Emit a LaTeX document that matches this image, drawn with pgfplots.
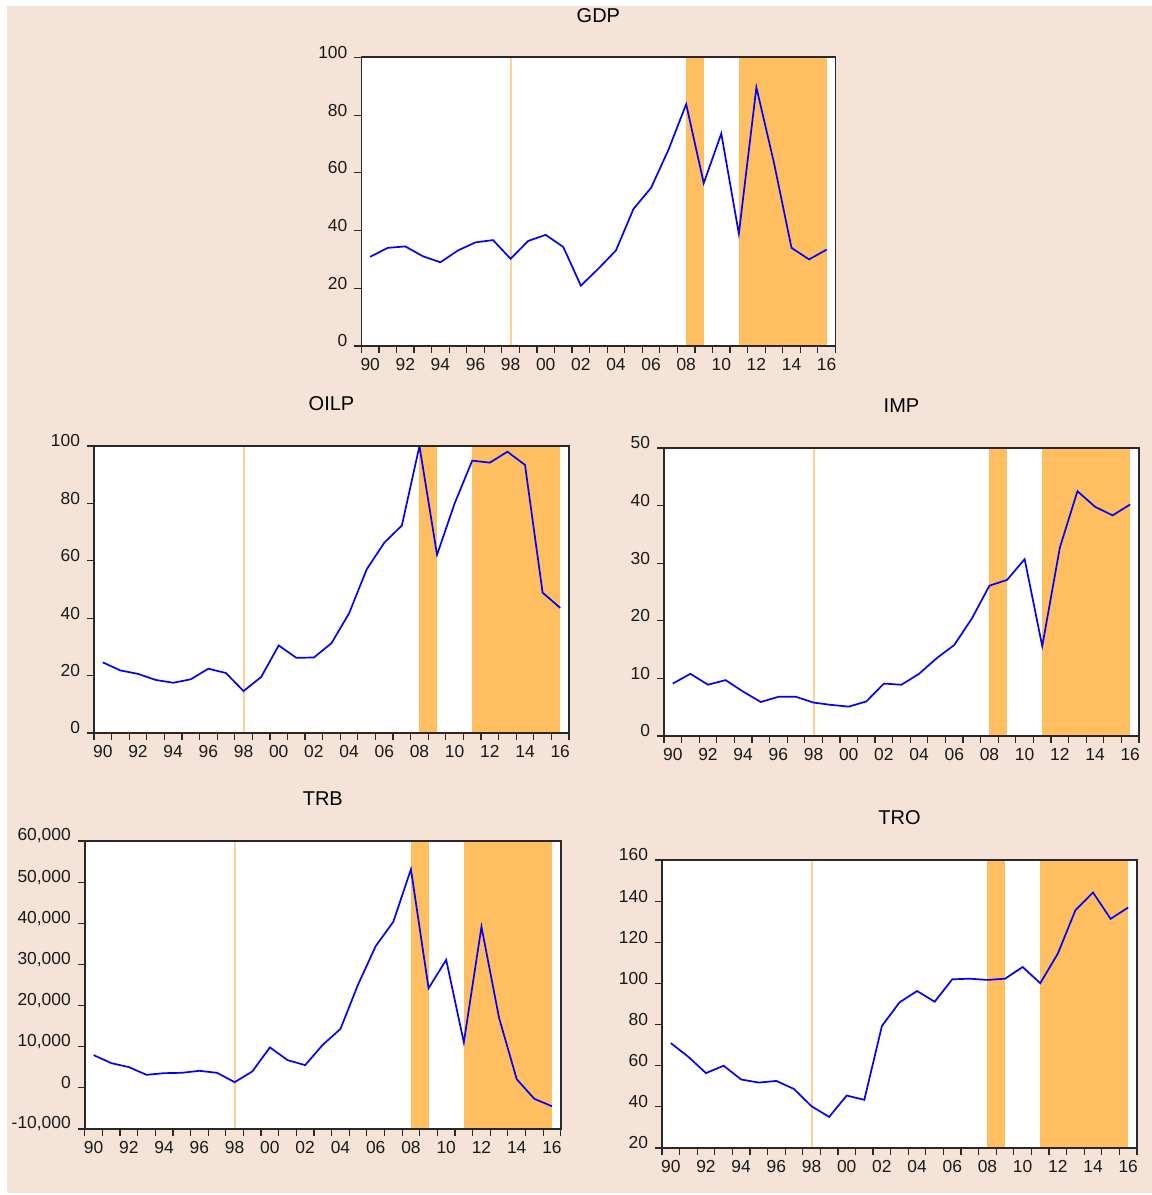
\documentclass[border=0pt]{standalone}
\usepackage{pgfplots}
\usepackage{pgfplotstable}
\pgfplotsset{compat=1.18}
\usepackage{fontspec}
\setmainfont{Liberation Sans}
\definecolor{bgpeach}{RGB}{245,227,215}
\definecolor{shade}{RGB}{255,190,95}
\definecolor{line98}{RGB}{253,208,148}
\definecolor{frame}{RGB}{40,40,40}

\pgfplotstableread{
year gdp oilp imp trb tro
1990 30.9 24.6 9.1 7960 71.0
1991 34.0 21.8 10.8 6010 64.3
1992 34.5 20.6 8.9 5040 56.4
1993 31.1 18.5 9.7 3170 60.0
1994 29.0 17.5 7.7 3570 53.3
1995 33.1 18.7 5.9 3660 51.8
1996 35.9 22.4 6.8 4140 52.6
1997 36.7 20.9 6.8 3660 48.7
1998 30.2 14.6 5.8 1380 40.3
1999 36.4 19.5 5.4 3980 35.1
2000 38.5 30.5 5.1 9830 45.5
2001 34.3 26.2 6.0 6740 43.4
2002 20.9 26.3 9.1 5520 79.3
2003 26.8 31.3 8.9 10480 90.8
2004 33.1 41.7 10.8 14300 96.3
2005 47.5 57.0 13.5 25100 91.1
2006 54.8 66.3 15.8 34440 102.0
2007 68.1 72.3 20.4 40370 102.3
2008 83.8 100.0 26.1 53130 101.7
2009 56.4 62.1 27.1 24210 102.3
2010 73.6 80.0 30.7 31110 108.0
2011 38.9 94.9 15.6 11050 100.1
2012 89.6 94.2 32.7 39150 114.5
2013 63.5 98.0 42.5 16980 135.6
2014 34.0 93.4 39.8 2110 144.2
2015 30.0 48.9 38.3 -2680 131.4
2016 33.4 43.6 40.2 -4470 136.9
}\datatable

\pgfplotsset{
  ep/.style={
    scale only axis,
    anchor=south west,
    xmin=1990, xmax=2017,
    axis background/.style={fill=white},
    axis on top,
    axis line style={frame, line width=0.9pt},
    tick align=outside,
    xtick pos=lower, ytick pos=left,
    tick style={frame, line width=0.6pt},
    major tick length=3.5pt,
    xtick={1990,...,2017},
    xticklabels={},
    extra x ticks={1990.5,1992.5,1994.5,1996.5,1998.5,2000.5,2002.5,2004.5,2006.5,2008.5,2010.5,2012.5,2014.5,2016.5},
    extra x tick labels={90,92,94,96,98,00,02,04,06,08,10,12,14,16},
    extra x tick style={tick style={draw=none}},
    ticklabel style={font=\fontsize{8.7}{10}\selectfont, text=black!90},
    /pgf/number format/assume math mode=true,
    yticklabel style={yshift=2.5pt},
    xticklabel style={yshift=1pt},
    scaled y ticks=false,
    title style={at={(0.5,1)}, anchor=center, yshift=15pt, font=\fontsize{10}{12}\selectfont},
  },
  dline/.style={blue, line width=0.85pt},
  vline/.style={line98, line width=1pt},
}

\begin{document}
\begin{tikzpicture}
\useasboundingbox (0pt,0pt) rectangle (576pt,597.5pt);
\fill[bgpeach] (3.5pt,1pt) rectangle (576pt,594.5pt);

% GDP
\begin{axis}[ep, at={(180.7pt,424.5pt)}, width=237pt, height=144.3pt,
  ymin=0, ymax=100, ytick={0,20,...,100}, title={GDP}]
\addplot[draw=none, fill=shade] coordinates {(2008.5,0) (2009.5,0) (2009.5,100) (2008.5,100)} -- cycle;
\addplot[draw=none, fill=shade] coordinates {(2011.5,0) (2016.5,0) (2016.5,100) (2011.5,100)} -- cycle;
\addplot[vline] coordinates {(1998.5,0) (1998.5,100)};
\addplot[dline] table[x expr=\thisrow{year}+0.5, y=gdp] {\datatable};
\end{axis}

% OILP
\begin{axis}[ep, at={(47pt,231pt)}, width=237.5pt, height=143.5pt,
  ymin=0, ymax=100, ytick={0,20,...,100}, title={OILP}]
\addplot[draw=none, fill=shade] coordinates {(2008.5,0) (2009.5,0) (2009.5,100) (2008.5,100)} -- cycle;
\addplot[draw=none, fill=shade] coordinates {(2011.5,0) (2016.5,0) (2016.5,100) (2011.5,100)} -- cycle;
\addplot[vline] coordinates {(1998.5,0) (1998.5,100)};
\addplot[dline] table[x expr=\thisrow{year}+0.5, y=oilp] {\datatable};
\end{axis}

% IMP
\begin{axis}[ep, at={(332pt,229.5pt)}, width=237.5pt, height=144pt,
  ymin=0, ymax=50, ytick={0,10,...,50}, title={IMP}]
\addplot[draw=none, fill=shade] coordinates {(2008.5,0) (2009.5,0) (2009.5,50) (2008.5,50)} -- cycle;
\addplot[draw=none, fill=shade] coordinates {(2011.5,0) (2016.5,0) (2016.5,50) (2011.5,50)} -- cycle;
\addplot[vline] coordinates {(1998.5,0) (1998.5,50)};
\addplot[dline] table[x expr=\thisrow{year}+0.5, y=imp] {\datatable};
\end{axis}

% TRB
\begin{axis}[ep, at={(42.4pt,33pt)}, width=238pt, height=144pt,
  ymin=-10000, ymax=60000, ytick={-10000,0,...,60000}, title={TRB},
  yticklabel style={/pgf/number format/.cd, fixed, 1000 sep={,}}]
\addplot[draw=none, fill=shade] coordinates {(2008.5,-10000) (2009.5,-10000) (2009.5,60000) (2008.5,60000)} -- cycle;
\addplot[draw=none, fill=shade] coordinates {(2011.5,-10000) (2016.5,-10000) (2016.5,60000) (2011.5,60000)} -- cycle;
\addplot[vline] coordinates {(1998.5,-10000) (1998.5,60000)};
\addplot[dline] table[x expr=\thisrow{year}+0.5, y=trb] {\datatable};
\end{axis}

% TRO
\begin{axis}[ep, at={(331pt,23.5pt)}, width=237.5pt, height=144pt,
  ymin=20, ymax=160, ytick={20,40,...,160}, title={TRO}]
\addplot[draw=none, fill=shade] coordinates {(2008.5,20) (2009.5,20) (2009.5,160) (2008.5,160)} -- cycle;
\addplot[draw=none, fill=shade] coordinates {(2011.5,20) (2016.5,20) (2016.5,160) (2011.5,160)} -- cycle;
\addplot[vline] coordinates {(1998.5,20) (1998.5,160)};
\addplot[dline] table[x expr=\thisrow{year}+0.5, y=tro] {\datatable};
\end{axis}
\end{tikzpicture}
\end{document}
